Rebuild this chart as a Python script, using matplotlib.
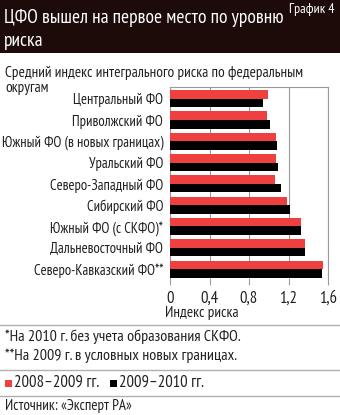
import matplotlib
matplotlib.use("Agg")
import matplotlib.pyplot as plt
from matplotlib.patches import Rectangle
from matplotlib.lines import Line2D
import numpy as np

plt.rcParams['font.family'] = ['PT Sans Narrow', 'DejaVu Sans']

# данные
okruga = ["Центральный ФО", "Приволжский ФО", "Южный ФО (в новых границах)",
          "Уральский ФО", "Северо-Западный ФО", "Сибирский ФО",
          "Южный ФО (с СКФО)*", "Дальневосточный ФО", "Северо-Кавказский ФО**"]
risk_2008_2009 = [0.99, 0.98, 1.07, 1.07, 1.06, 1.18, 1.33, 1.37, 1.55]
risk_2009_2010 = [0.945, 1.01, 1.08, 1.09, 1.12, 1.22, 1.33, 1.37, 1.54]
xticks = [0, 0.4, 0.8, 1.2, 1.6]
xtick_labels = ["0", "0,4", "0,8", "1,2", "1,6"]
series_names = ["2008–2009 гг.", "2009–2010 гг."]

RED = "#ef4040"
BLACK = "#000000"
GREY = "#9a9a9a"
TXT = "#231f20"
W, H = 340, 415

fig = plt.figure(figsize=(W / 100, H / 100), dpi=100)

def fx(px):
    return px / W

def fy(py):
    return 1 - py / H

# шапка
fig.add_artist(Rectangle((0, fy(53)), 1, 53 / H, transform=fig.transFigure,
                         facecolor="#1c0b09", edgecolor="none"))
fig.text(fx(4), fy(18), "ЦФО вышел на первое место по уровню", color="white",
         fontsize=14, va="center", ha="left")
fig.text(fx(4), fy(41), "риска", color="white", fontsize=14, va="center", ha="left")
fig.text(fx(335), fy(9), "График 4", color="white", fontsize=10, va="center", ha="right")

fig.text(fx(5), fy(73), "Средний индекс интегрального риска по федеральным",
         fontsize=11, va="center", ha="left", color=TXT)
fig.text(fx(5), fy(88), "округам", fontsize=11, va="center", ha="left", color=TXT)

# график
ax = fig.add_axes([fx(170), fy(278), fx(328) - fx(170), (278 - 87) / H])
y = np.arange(len(okruga))
h = 0.4
ax.barh(y - h / 2, risk_2008_2009, height=h, color=RED, edgecolor="none", zorder=3)
ax.barh(y + h / 2, risk_2009_2010, height=h, color=BLACK, edgecolor="none", zorder=3)
ax.set_ylim(len(okruga) - 1 + h + 0.02, -h - 0.15)
ax.set_xlim(0, 1.6)
ax.set_yticks(y)
ax.set_yticklabels(okruga, fontsize=10.5, color=TXT)
ax.tick_params(axis="y", length=0, pad=5)
ax.set_xticks(xticks)
ax.set_xticklabels(xtick_labels, fontsize=12, color=TXT)
ax.tick_params(axis="x", length=5, color=GREY, width=0.8, pad=4)
ax.grid(axis="x", color=GREY, linewidth=0.8, zorder=0)
for s in ["top", "left", "right"]:
    ax.spines[s].set_color(GREY)
    ax.spines[s].set_linewidth(0.8)
ax.spines["bottom"].set_visible(False)
fig.text(fx(165), fy(313), "Индекс риска", fontsize=11, va="center", ha="left", color=TXT)

# разделители
for py in [325, 370, 396]:
    fig.add_artist(Line2D([0, 1], [fy(py), fy(py)], transform=fig.transFigure,
                          color="#b0b0b0", linewidth=1))

fig.text(fx(5), fy(337), "*На 2010 г. без учета образования СКФО.", fontsize=11.5,
         va="center", ha="left", color=TXT)
fig.text(fx(5), fy(356), "**На 2009 г. в условных новых границах.", fontsize=11.5,
         va="center", ha="left", color=TXT)

# легенда
fig.add_artist(Rectangle((fx(5), fy(387)), 7 / W, 7 / H, transform=fig.transFigure,
                         facecolor=RED, edgecolor="none"))
fig.text(fx(14), fy(383), series_names[0], fontsize=12, va="center", ha="left", color=TXT)
fig.add_artist(Rectangle((fx(110), fy(387)), 7 / W, 7 / H, transform=fig.transFigure,
                         facecolor=BLACK, edgecolor="none"))
fig.text(fx(119), fy(383), series_names[1], fontsize=12, va="center", ha="left", color=TXT)

fig.text(fx(5), fy(406), "Источник: «Эксперт РА»", fontsize=10.8, va="center",
         ha="left", color=TXT)

fig.savefig("out.png", dpi=100)
